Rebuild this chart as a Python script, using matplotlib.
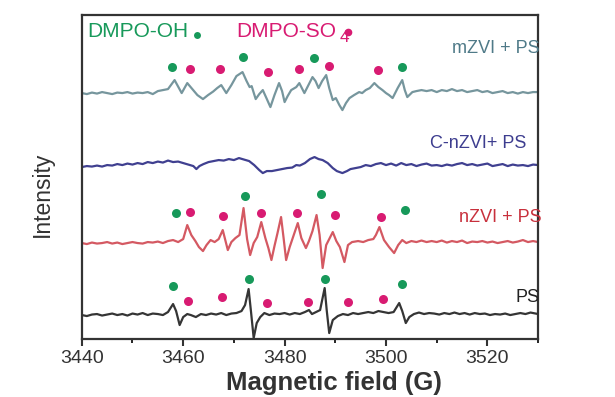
import matplotlib
matplotlib.use("Agg")
import matplotlib.pyplot as plt
from matplotlib.ticker import MultipleLocator

plt.rcParams['font.family'] = ['Liberation Sans', 'DejaVu Sans']

# ---------------- data (magnetic field in G, relative intensity) ----------------
mzvi_x = [3440, 3441, 3442, 3443, 3444, 3445, 3446, 3447, 3448, 3449, 3450, 3451, 3452, 3453, 3454,
          3455, 3456, 3457, 3458.3, 3459.7, 3460.8, 3461.8, 3462.8, 3463.9, 3464.9, 3465.9, 3466.7,
          3467.5, 3468.5, 3469.5, 3470.5, 3471.7, 3472.5, 3473.1, 3473.5, 3474.3, 3475, 3475.7, 3476.5,
          3477.2, 3478, 3478.9, 3479.5, 3480.0, 3480.6, 3481.3, 3482.3, 3482.9, 3483.9, 3484.7, 3485.5,
          3486.1, 3486.7, 3487.4, 3488.2, 3488.8, 3489.5, 3490.1, 3490.8, 3491.4, 3492.1, 3492.8, 3493.7,
          3494.7, 3495.3, 3496.0, 3496.8, 3497.7, 3498.5, 3499.3, 3500.0, 3500.6, 3501.3, 3502.3, 3503.2,
          3503.7, 3504.2, 3505.2, 3506, 3507, 3508, 3509, 3510, 3511, 3512, 3513, 3514, 3515, 3516, 3517,
          3518, 3519, 3520, 3521, 3522, 3523, 3524, 3525, 3526, 3527, 3528, 3529, 3530]
mzvi_y = [0, -1, 0.5, -0.5, 1, 0, -1, 0.5, 0, 1, -0.5, 0.5, 0, 1, -1,
          2, 3, 4, 13, 0, 10, 4, -2, -6, -2, 1.5, 5,
          8, 0, 8, 17, 21, 12, 6, 7, -6, -1, 3, -6,
          -14, -2, 10, 2, -9, -3, 3, 6, 10, 0, 8, 16,
          12, 5, 12, 18, 5, -7, -5, -12, -17, -10, -5, -2,
          1, 0, 3, 5, 10, 6, 3, 0, -2, -5, 5, 13,
          3, -4, 1, 2, 3, 2, 3, 1, 3, 2, 4, 2, 3, 1, 2,
          3, 1, 2, 0, 1, 2, 0, 1, -0.5, 1, 0, 1, 1]

cnzvi_x = [3440, 3441, 3442, 3443, 3444, 3445, 3446, 3447, 3448, 3449, 3450, 3451, 3452, 3453, 3454,
           3455, 3456, 3457, 3458, 3459, 3460, 3461, 3462, 3462.6, 3463.2, 3464, 3465, 3466, 3467, 3468,
           3469, 3470, 3471, 3472, 3473, 3474, 3475, 3475.7, 3476.5, 3477.5, 3478.5, 3479.5, 3480.5,
           3481.5, 3482.3, 3483, 3484, 3485, 3485.9, 3486.7, 3487.5, 3488.5, 3489.5, 3490.3, 3491.4,
           3492.3, 3493, 3494, 3495, 3496, 3497, 3498, 3499, 3500, 3501, 3502, 3503, 3504, 3505, 3506,
           3507, 3508, 3509, 3510, 3511, 3512, 3513, 3514, 3515, 3516, 3517, 3518, 3519, 3520, 3521,
           3522, 3523, 3524, 3525, 3526, 3527, 3528, 3529, 3530]
cnzvi_y = [-1, 0, -0.5, 0.5, -0.5, 1, 0.5, 2, 1, 2.5, 1.5, 3, 2, 4, 3,
           4.5, 3.5, 5.5, 4, 4.5, 3, 1.5, 0, -3, 0, 2, 4, 5, 6, 5.5,
           7, 6, 8, 6.5, 5, 1, -4, -7, -5, -5, -4, -3, -2,
           -1.5, 1, 0.5, 3, 7, 9, 7, 6, 3, -2, -5, -7,
           -5, -3, -2, -1, 1, 0, 2, 3, 1, 2.5, 0.5, 3, 1, 2, 0,
           1.5, 2.5, 0.5, 1, 0, 1.5, 0.5, 2, 3, 1, 2, 0.5, 1.5, 2.5, 0,
           1, 2, 0, 1.5, 0.5, 1, 0, 1.5, 1]

nzvi_x = [3440, 3441, 3442, 3443, 3444, 3445, 3446, 3447, 3448, 3449, 3450, 3451, 3452, 3453, 3454,
          3455, 3456, 3457, 3458, 3459, 3460, 3460.8, 3461.6, 3462.4, 3463.1, 3463.9, 3464.6, 3465.4,
          3466.2, 3467, 3467.8, 3468.8, 3469.5, 3470.3, 3471.1, 3471.9, 3472.6, 3473.2, 3473.9, 3474.6,
          3475.4, 3476.2, 3476.8, 3477.4, 3478, 3478.6, 3479.3, 3479.8, 3480.3, 3481, 3481.8, 3482.6,
          3483.3, 3484.2, 3484.8, 3485.5, 3486.3, 3486.9, 3487.5, 3488.2, 3488.9, 3489.5, 3490.2, 3490.9,
          3491.8, 3492.5, 3493.3, 3494.5, 3495.5, 3496.5, 3497.5, 3498, 3498.7, 3499.6, 3500.6, 3501.6,
          3502.4, 3503.2, 3504, 3505, 3506, 3507, 3508, 3509, 3510, 3511, 3512, 3513, 3514, 3515, 3516,
          3517, 3518, 3519, 3520, 3521, 3522, 3523, 3524, 3525, 3526, 3527, 3528, 3529, 3530]
nzvi_y = [0, -1, 0.5, -0.5, 0, 1, -0.5, 0.5, -1, 0, 1, 0, -0.5, 1, 0.5,
          1.5, 0, 2, 3, 1, 4, 18, 8, 2, -4, -8, -2, 3,
          1, 4, 13, -7, 1, 5, 8, 35, 4, -12, 0, 6,
          21, 5, -5, -17, -3, 10, 26, 5, -17, -4, 8, 20,
          5, -5, 2, 12, 28, 8, -25, -2, 5, 11, 2, -4,
          -19, -2, 1, 2, 1, 3, 4, 8, 16, 3, -4, -10,
          -2, 3, 0, 2, 1, 2.5, 1, 2, 1, 2.5, 0.5, 2, 1, 2.5, 0,
          1.5, 1, 2, 0.5, 1.5, 0, 1, 2, 0.5, 1.5, 3, 1, 2, 1]

ps_x = [3440, 3441, 3442, 3443, 3444, 3445, 3446, 3447, 3448, 3449, 3450, 3451, 3452, 3453, 3454,
        3455, 3456, 3457, 3458, 3458.6, 3459.3, 3460, 3460.8, 3461.5, 3462.5, 3463.5, 3464.5, 3465.5,
        3466.5, 3467.5, 3468.5, 3469.5, 3470.5, 3471.5, 3472.2, 3472.9, 3473.4, 3473.9, 3474.5, 3475.2,
        3476, 3477, 3478, 3479, 3480, 3481, 3482, 3483, 3484, 3484.8, 3485.4, 3486.2, 3487, 3487.9,
        3488.3, 3488.8, 3489.5, 3490.5, 3491.5, 3492.5, 3493.5, 3494.5, 3495.5, 3496.5, 3497.5, 3498.5,
        3499.5, 3500.5, 3501.5, 3502.6, 3503.2, 3503.9, 3504.6, 3505.5, 3506.5, 3507.5, 3508.5, 3509.5,
        3510.5, 3511.5, 3512.5, 3513.5, 3514.5, 3515.5, 3516.5, 3517.5, 3518.5, 3519.5, 3520.5, 3521.5,
        3522.5, 3523.5, 3524.5, 3525.5, 3526.5, 3527.5, 3528.5, 3530]
ps_y = [0, -1, 0.5, 1, -0.5, 0.5, 1.5, 0, 1, -0.5, 1.5, 0.5, 2, 0, 1.5,
        1, 0, 3, 11, 4, -10, -2, 1, 0, -2, 1, 0, 1.5,
        0.5, 2, 0, 1.5, 2, 4, 10, 26, 2, -23, -8, -2,
        2, 0, 1.5, 1, 2, 0.5, 2, 1, 3, 5, 1, 3, 5, 27,
        5, -18, -5, -1, 1, 0, 2, 1, 2, 3, 2, 4,
        3, 2, 3, 12, 4, -8, -2, 1, 2.5, 1, 2, 1.5,
        0.5, 2, 1, 2.5, 1, 2, 0.5, 2, 1, 1.5, 0, 1,
        0.5, 1.5, 0, 1, 2, 1, 2.5, 1]

# spin-adduct marker positions (field, relative height above each baseline)
mzvi_oh_x = [3457.7, 3471.7, 3485.7, 3503.2]
mzvi_oh_h = [26.3, 35.7, 34.7, 26.3]
mzvi_so4_x = [3461.3, 3467.2, 3476.7, 3482.8, 3488.8, 3498.5]
mzvi_so4_h = [24, 24, 21.3, 24, 27.3, 23]

nzvi_oh_x = [3458.5, 3472.1, 3487.2, 3503.7]
nzvi_oh_h = [30.3, 47, 49, 33]
nzvi_so4_x = [3461.3, 3467.8, 3475.4, 3482.4, 3490.0, 3499.0]
nzvi_so4_h = [31, 27.3, 29.7, 30.3, 28, 25.7]

ps_oh_x = [3457.9, 3473.0, 3487.9, 3503.2]
ps_oh_h = [29, 35.7, 35.7, 31]
ps_so4_x = [3461.0, 3467.7, 3476.6, 3484.6, 3492.5, 3499.4]
ps_so4_h = [14.3, 17.7, 12.3, 13.3, 13.3, 15.7]

series_names = ["mZVI + PS", "C-nZVI+ PS", "nZVI + PS", "PS"]
x_ticks = [3440, 3460, 3480, 3500, 3520]

# ---------------- styling ----------------
GREEN = "#17995a"
PINK = "#d81b72"
colors = {"mZVI + PS": "#6f9098", "C-nZVI+ PS": "#35358a", "nZVI + PS": "#d2505a", "PS": "#2a2a2a"}
label_colors = {"mZVI + PS": "#4f7a88", "C-nZVI+ PS": "#3d3d8f", "nZVI + PS": "#c8303c", "PS": "#222222"}
offsets = {"mZVI + PS": 246, "C-nZVI+ PS": 173, "nZVI + PS": 96, "PS": 24}
label_pos = {"mZVI + PS": (3530.3, 291), "C-nZVI+ PS": (3527.6, 196),
             "nZVI + PS": (3530.6, 122), "PS": (3530.3, 42)}

fig = plt.figure(figsize=(6.15, 3.97), dpi=100)
ax = fig.add_axes([0.133, 0.146, 0.742, 0.816])

data = {"mZVI + PS": (mzvi_x, mzvi_y), "C-nZVI+ PS": (cnzvi_x, cnzvi_y),
        "nZVI + PS": (nzvi_x, nzvi_y), "PS": (ps_x, ps_y)}
for name in series_names:
    xs, ys = data[name]
    off = offsets[name]
    ax.plot(xs, [v + off for v in ys], color=colors[name], lw=1.6, alpha=0.95,
            solid_joinstyle="round", zorder=2)
    lx, ly = label_pos[name]
    ax.text(lx, ly, name, color=label_colors[name], fontsize=13, ha="right", va="center",
            clip_on=False, zorder=4)

markers = [("mZVI + PS", mzvi_oh_x, mzvi_oh_h, mzvi_so4_x, mzvi_so4_h),
           ("nZVI + PS", nzvi_oh_x, nzvi_oh_h, nzvi_so4_x, nzvi_so4_h),
           ("PS", ps_oh_x, ps_oh_h, ps_so4_x, ps_so4_h)]
for name, ox, oh, sx, sh in markers:
    off = offsets[name]
    ax.plot(ox, [h + off for h in oh], "o", color=GREEN, ms=6.5, mec="none", zorder=3)
    ax.plot(sx, [h + off for h in sh], "o", color=PINK, ms=6.5, mec="none", zorder=3)

# legend-like labels
t_oh = ax.text(3441.0, 308, "DMPO-OH", color=GREEN, fontsize=15, ha="left", va="center")
t_so = ax.text(3470.5, 308, "DMPO-SO", color=PINK, fontsize=15, ha="left", va="center")
fig.canvas.draw()
inv = ax.transData.inverted()
r = fig.canvas.get_renderer()
bb_oh = t_oh.get_window_extent(r)
bb_so = t_so.get_window_extent(r)
x_oh_end = inv.transform((bb_oh.x1, bb_oh.y0))[0]
x_so_end = inv.transform((bb_so.x1, bb_so.y0))[0]
ax.plot([x_oh_end - 0.2], [304.5], "o", color=GREEN, ms=5, mec="none")
ax.text(x_so_end - 1.4, 302, "4", color=PINK, fontsize=12.5, ha="left", va="center")
ax.plot([x_so_end + 0.3], [307.5], "o", color=PINK, ms=5.5, mec="none")

ax.set_xlim(3440, 3530)
ax.set_ylim(0, 324)
ax.set_xticks(x_ticks)
ax.set_xticklabels([str(t) for t in x_ticks])
ax.xaxis.set_minor_locator(MultipleLocator(10))
ax.set_yticks([])
ax.tick_params(axis="x", which="major", direction="out", length=5, width=1.5, labelsize=14,
               colors="#333333", pad=3)
ax.tick_params(axis="x", which="minor", direction="out", length=3, width=1.2)
for s in ax.spines.values():
    s.set_linewidth(1.6)
    s.set_color("#333333")

ax.set_xlabel("Magnetic field (G)", fontsize=18.5, fontweight="bold", color="#333333")
ax.xaxis.set_label_coords(0.553, -0.098)
ax.set_ylabel("Intensity", fontsize=16.5, color="#333333")
ax.yaxis.set_label_coords(-0.062, 0.447)

fig.savefig("out.png", dpi=100)
